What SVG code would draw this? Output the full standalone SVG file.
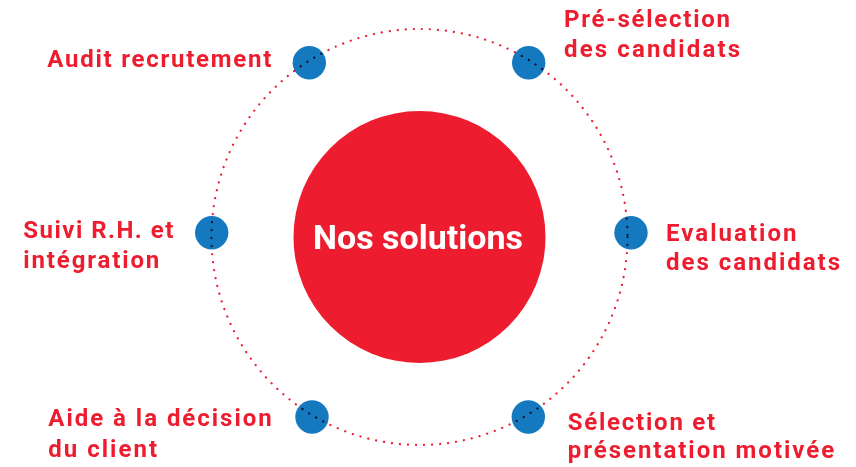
<svg xmlns="http://www.w3.org/2000/svg" width="856" height="467" viewBox="0 0 856 467">
<style>
.lbl{font-family:Roboto,"Liberation Sans",sans-serif;font-weight:700;font-size:24px;fill:#ED1C2E}
.dot{fill:#1479BE}
.ring{fill:none;stroke:#ED1C2E;stroke-width:2.2;stroke-linecap:round;stroke-dasharray:0.1 7.95;mix-blend-mode:multiply}
</style>
<rect width="856" height="467" fill="#ffffff"/>
<g id="center">
<circle cx="419.5" cy="237" r="126" fill="#ED1C2E"/>
<text x="418" y="249" text-anchor="middle" style="font-family:Roboto,'Liberation Sans',sans-serif;font-weight:700;font-size:34px;fill:#ffffff">Nos solutions</text>
</g>
<g id="node-audit">
<circle class="dot" cx="309.3" cy="62.7" r="16.7"/>
<text class="lbl" x="47.3" y="66.7" textLength="224" lengthAdjust="spacing">Audit recrutement</text>
</g>
<g id="node-preselection">
<circle class="dot" cx="528.7" cy="62.7" r="16.7"/>
<text class="lbl" x="564" y="26.7" textLength="166" lengthAdjust="spacing">Pré-sélection</text>
<text class="lbl" x="564" y="56.7" textLength="176" lengthAdjust="spacing">des candidats</text>
</g>
<g id="node-evaluation">
<circle class="dot" cx="631" cy="232.7" r="16.7"/>
<text class="lbl" x="666" y="240.7" textLength="130.5" lengthAdjust="spacing">Evaluation</text>
<text class="lbl" x="666" y="270" textLength="174" lengthAdjust="spacing">des candidats</text>
</g>
<g id="node-selection">
<circle class="dot" cx="528.3" cy="417" r="16.7"/>
<text class="lbl" x="567.7" y="430.3" textLength="147.5" lengthAdjust="spacing">Sélection et</text>
<text class="lbl" x="567.7" y="458.3" textLength="266.5" lengthAdjust="spacing">présentation motivée</text>
</g>
<g id="node-aide">
<circle class="dot" cx="312" cy="417" r="16.7"/>
<text class="lbl" x="48.3" y="425.7" textLength="223.4" lengthAdjust="spacing">Aide à la décision</text>
<text class="lbl" x="48.3" y="456.7" textLength="108.7" lengthAdjust="spacing">du client</text>
</g>
<g id="node-suivi">
<circle class="dot" cx="211.7" cy="232.7" r="16.7"/>
<text class="lbl" x="23.3" y="238.3" textLength="150" lengthAdjust="spacing">Suivi R.H. et</text>
<text class="lbl" x="23.3" y="268.3" textLength="136" lengthAdjust="spacing">intégration</text>
</g>
<g id="connectors">
<circle class="ring" cx="419.5" cy="237" r="208"/>
</g>
</svg>
